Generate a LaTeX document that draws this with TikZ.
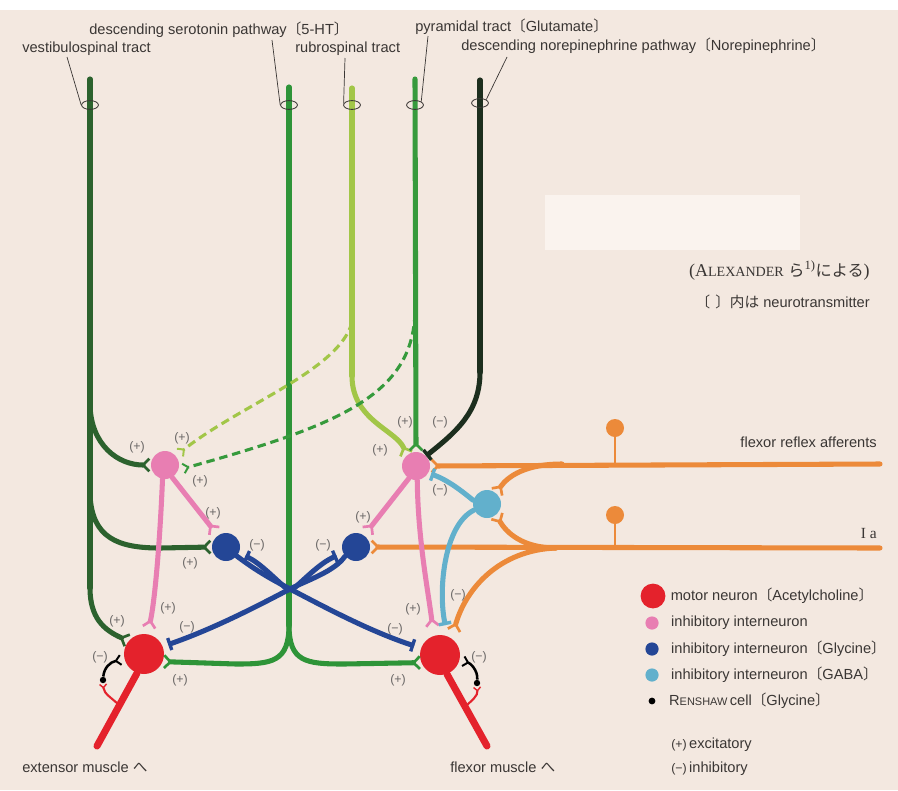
\documentclass[tikz,border=0pt]{standalone}
\usepackage{fontspec}
\setmainfont{Liberation Sans}
\newfontfamily\cjk{Noto Sans CJK JP}
\newfontfamily\serifrm{Liberation Serif}
\usetikzlibrary{arrows.meta,positioning,shapes.geometric}

\definecolor{paper}{RGB}{243,232,224}
\definecolor{patch}{RGB}{250,243,238}
\definecolor{vestgreen}{RGB}{44,98,46}
\definecolor{serogreen}{RGB}{46,148,56}
\definecolor{rubrogreen}{RGB}{162,198,72}
\definecolor{pyrgreen}{RGB}{54,154,60}
\definecolor{norgreen}{RGB}{28,46,30}
\definecolor{pinkn}{RGB}{232,126,178}
\definecolor{bluen}{RGB}{36,70,150}
\definecolor{gaban}{RGB}{98,176,204}
\definecolor{mred}{RGB}{228,34,44}
\definecolor{afforange}{RGB}{236,138,58}
\definecolor{ink}{RGB}{58,54,52}

\newcommand{\lbr}{{\cjk 〔}}
\newcommand{\rbr}{{\cjk 〕}}
\newcommand{\pl}{(+)}
\newcommand{\mi}{(−)}

\begin{document}
\begin{tikzpicture}[x=0.025cm,y=-0.025cm,
  fiber/.style={line width=3.6pt,line cap=round},
  dfiber/.style={line width=2.2pt,dash pattern=on 6pt off 3.5pt},
  axon/.style={line width=5pt,line cap=round},
  twig/.style={line width=1.5pt},
  syn/.style={-{Straight Barb[reversed,length=4.5pt,width=9pt,line width=1.9pt 0]}},
  smallsyn/.style={-{Straight Barb[reversed,length=3.5pt,width=7pt,line width=1.4pt 0]}},
  tinysyn/.style={-{Straight Barb[reversed,length=2.5pt,width=5pt,line width=1pt 0]}},
  tbar/.style={-{Bar[width=9pt,line width=2.4pt 0]}},
  cell/.style={circle,minimum size=0.7cm,inner sep=0pt},
  motor/.style={circle,minimum size=1cm,inner sep=0pt,fill=mred},
  ganglion/.style={circle,minimum size=0.45cm,inner sep=0pt,fill=afforange},
  ring/.style={ellipse,draw=ink,line width=0.6pt,minimum width=0.42cm,minimum height=0.22cm,inner sep=0pt},
  leader/.style={draw=ink,line width=0.5pt},
  lbl/.style={font=\fontsize{10.4}{12}\selectfont,text=ink,inner sep=0pt},
  sign/.style={font=\fontsize{8.8}{10}\selectfont,text=ink!75,inner sep=0pt}]

  \useasboundingbox (0,0) rectangle (898,790);
  \fill[paper] (0,0) rectangle (898,790);
  \fill[white] (0,0) rectangle (898,10);
  \fill[patch] (545,195) rectangle (800,250);

  % cells
  \node[cell,fill=pinkn] (pkL) at (165,465) {};
  \node[cell,fill=pinkn] (pkR) at (416,466) {};
  \node[cell,fill=bluen] (blL) at (226,547) {};
  \node[cell,fill=bluen] (blR) at (356,547) {};
  \node[cell,fill=gaban] (gb) at (487,504) {};
  \node[motor] (mnL) at (144,654) {};
  \node[motor] (mnR) at (440,655) {};
  \node[circle,fill=black,minimum size=0.16cm,inner sep=0pt] (rsL) at (103,680) {};
  \node[circle,fill=black,minimum size=0.16cm,inner sep=0pt] (rsR) at (477,683) {};
  \node[ganglion] (drgF) at (615,428) {};
  \node[ganglion] (drgI) at (615,515) {};

  % tract tops and branch points
  \coordinate (vT) at (90,79);
  \coordinate (sT) at (289,87);
  \coordinate (rT) at (352,88);
  \coordinate (pT) at (415,79);
  \coordinate (nT) at (480,80);
  \coordinate (v1) at (90,405);
  \coordinate (v2) at (90,495);
  \coordinate (v3) at (90,588);
  \coordinate (s1) at (289,625);
  \coordinate (r1) at (352,322);
  \coordinate (r2) at (352,376);
  \coordinate (p1) at (415,313);
  \coordinate (n1) at (480,372);
  \coordinate (fraE) at (880,464);
  \coordinate (iaE) at (880,548);
  \coordinate (f1) at (562,464);
  \coordinate (i1) at (556,548);
  \coordinate (bL1) at (292,590);
  \coordinate (bR1) at (288,590);
  \coordinate (extM) at (97,746);
  \coordinate (flxM) at (487,746);
  \coordinate (rcL) at (119,705);
  \coordinate (rcR) at (465,707);

  % afferents
  \draw[fiber,afforange,syn] (fraE) -- (pkR.east);
  \draw[fiber,afforange,syn] (iaE) -- (blR.east);
  \draw[fiber,afforange,syn] (f1) .. controls (526,464) and (508,476) .. (gb.50);
  \draw[fiber,afforange,syn] (i1) .. controls (522,548) and (506,532) .. (gb.-50);
  \draw[fiber,afforange,syn,shorten >=5pt] (i1) .. controls (500,550) and (466,588) .. (mnR.55);
  \draw[afforange,line width=1.5pt] (drgF) -- (drgF |- fraE);
  \draw[afforange,line width=1.5pt] (drgI) -- (drgI |- iaE);

  % vestibulospinal tract
  \draw[fiber,vestgreen] (vT) -- (v3);
  \draw[fiber,vestgreen,syn] (v3) .. controls (90,618) and (104,630) .. (mnL.140);
  \draw[fiber,vestgreen,syn] (v1) .. controls (91,445) and (118,465) .. (pkL.west);
  \draw[fiber,vestgreen,syn] (v2) .. controls (92,538) and (118,548) .. (160,548) -- (blL.west);

  % serotonin pathway
  \draw[fiber,serogreen] (sT) -- (s1);
  \draw[fiber,serogreen,syn] (s1) .. controls (289,662) and (272,664) .. (236,664) -- (mnL.-22);
  \draw[fiber,serogreen,syn] (s1) .. controls (289,662) and (306,664) .. (344,664) -- (mnR.202);

  % rubrospinal tract
  \draw[fiber,rubrogreen] (rT) -- (r2);
  \draw[fiber,rubrogreen,syn] (r2) .. controls (352,420) and (396,430) .. (pkR.130);
  \draw[dfiber,rubrogreen,smallsyn,shorten >=3pt] (r1) .. controls (340,370) and (240,405) .. (pkL.40);

  % pyramidal tract
  \draw[fiber,pyrgreen,syn] (pT) -- (pkR.north);
  \draw[dfiber,pyrgreen,smallsyn,shorten >=3pt] (p1) .. controls (412,395) and (340,425) .. (pkL.-20);

  % norepinephrine pathway
  \draw[fiber,norgreen] (nT) -- (n1);
  \draw[fiber,norgreen,tbar] (n1) .. controls (480,412) and (456,432) .. (pkR.45);

  % pink cells
  \draw[fiber,pinkn,syn,shorten >=4pt] (pkL.-100) .. controls (160,540) and (155,600) .. (mnL.80);
  \draw[fiber,pinkn,syn,shorten >=3pt] (pkL.-60) -- (blL.125);
  \draw[fiber,pinkn,syn,shorten >=3pt] (pkR.-120) -- (blR.55);
  \draw[fiber,pinkn,syn,shorten >=6pt] (pkR.-85) .. controls (418,540) and (428,590) .. (mnR.108);

  % gaba cell
  \draw[fiber,gaban,tbar,shorten >=2pt] (gb.165) .. controls (463,492) and (448,480) .. (pkR.-30);
  \draw[fiber,gaban,tbar,shorten >=8pt] (gb.205) .. controls (444,525) and (438,590) .. (mnR.68);

  % blue cells
  \draw[fiber,bluen] (blL.-40) .. controls (258,572) and (273,580) .. (bL1);
  \draw[fiber,bluen,tbar,shorten >=5pt] (bL1) .. controls (330,610) and (372,632) .. (mnR.160);
  \draw[fiber,bluen,tbar,shorten >=5pt] (bL1) .. controls (306,578) and (320,563) .. (blR.205);
  \draw[fiber,bluen] (blR.220) .. controls (334,572) and (307,580) .. (bR1);
  \draw[fiber,bluen,tbar,shorten >=4pt] (bR1) .. controls (250,610) and (210,630) .. (mnL.22);
  \draw[fiber,bluen,tbar,shorten >=5pt] (bR1) .. controls (274,578) and (260,563) .. (blL.-25);

  % motor axons and Renshaw loops
  \draw[axon,mred] (mnL.-110) -- (extM);
  \draw[axon,mred] (mnR.-70) -- (flxM);
  \draw[twig,mred,tinysyn] (rcL) .. controls (112,698) and (104,694) .. (rsL.south);
  \draw[twig,mred,tinysyn] (rcR) .. controls (472,700) and (478,696) .. (rsR.south);
  \draw[twig,black,line width=1.8pt,smallsyn,shorten >=2pt] (rsL) .. controls (104,668) and (110,662) .. (mnL.195);
  \draw[twig,black,line width=1.8pt,smallsyn,shorten >=2pt] (rsR) .. controls (478,670) and (470,663) .. (mnR.-15);

  % rings and tract labels
  \node[ring] (ringV) at (90,105) {};
  \node[ring] (ringS) at (289,105) {};
  \node[ring] (ringR) at (352,105) {};
  \node[ring] (ringP) at (415,105) {};
  \node[ring] (ringN) at (480,103) {};
  \node[lbl,anchor=base west] (lVest) at (22,52) {vestibulospinal tract};
  \node[lbl,anchor=base west] (lSero) at (89,34) {descending serotonin pathway\lbr 5-HT\rbr};
  \node[lbl,anchor=base west] (lRubro) at (295,52) {rubrospinal tract};
  \node[lbl,anchor=base west] (lPyr) at (415,31) {pyramidal tract\lbr Glutamate\rbr};
  \node[lbl,anchor=base west] (lNor) at (461,50) {descending norepinephrine pathway\lbr Norepinephrine\rbr};
  \coordinate (kV) at (67,57);
  \coordinate (kS) at (272,40);
  \coordinate (kR) at (345,58);
  \coordinate (kP) at (428,36);
  \coordinate (kN) at (507,57);
  \draw[leader] (kV) -- (ringV.west);
  \draw[leader] (kS) -- (ringS.west);
  \draw[leader] (kR) -- (ringR.170);
  \draw[leader] (kP) -- (ringP.north east);
  \draw[leader] (kN) -- (ringN.north east);

  % afferent and muscle labels
  \node[lbl,anchor=base east] (lFra) at (877,447) {flexor reflex afferents};
  \node[lbl,anchor=base east,font=\serifrm\fontsize{11}{12}\selectfont] (lIa) at (877,538) {I a};
  \node[lbl,anchor=base west] (lExt) at (22,772) {extensor muscle {\cjk へ}};
  \node[lbl,anchor=base west] (lFlx) at (450,772) {flexor muscle {\cjk へ}};

  % source notes
  \node[lbl,anchor=base east,font=\serifrm\fontsize{12.8}{14}\selectfont] (lSrc) at (870,276)
    {(A{\fontsize{10}{12}\selectfont LEXANDER} {\cjk\fontsize{11.5}{14}\selectfont ら}\textsuperscript{1)}{\cjk\fontsize{11.5}{14}\selectfont による})};
  \node[lbl,anchor=base east] (lNote) at (870,307) {{\cjk\fontsize{10.4}{12}\selectfont 〔\hspace{0.35em}〕内は} neurotransmitter};

  % signs at the left pink cell
  \node[sign] (sg1) at (137,447) {\pl};
  \node[sign] (sg2) at (182,438) {\pl};
  \node[sign] (sg3) at (200,481) {\pl};
  % signs at the blue cells
  \node[sign] (sg4) at (213,513) {\pl};
  \node[sign] (sg5) at (190,563) {\pl};
  \node[sign] (sg6) at (257,545) {\mi};
  \node[sign] (sg7) at (323,545) {\mi};
  \node[sign] (sg8) at (363,517) {\pl};
  % signs at the right pink cell
  \node[sign] (sg9) at (380,450) {\pl};
  \node[sign] (sg10) at (405,422) {\pl};
  \node[sign] (sg11) at (440,422) {\mi};
  \node[sign] (sg12) at (440,490) {\mi};
  % signs at the motor neurons
  \node[sign] (sg13) at (117,621) {\pl};
  \node[sign] (sg14) at (168,608) {\pl};
  \node[sign] (sg15) at (187,627) {\mi};
  \node[sign] (sg16) at (180,680) {\pl};
  \node[sign] (sg17) at (100,657) {\mi};
  \node[sign] (sg18) at (395,629) {\mi};
  \node[sign] (sg19) at (398,680) {\pl};
  \node[sign] (sg20) at (413,609) {\pl};
  \node[sign] (sg21) at (458,595) {\mi};
  \node[sign] (sg22) at (479,657) {\mi};

  % legend
  \node[motor,minimum size=0.62cm] (kMn) at (653,596) {};
  \node[cell,fill=pinkn,minimum size=0.33cm] (kPk) at (652,623) {};
  \node[cell,fill=bluen,minimum size=0.33cm] (kBl) at (652,649) {};
  \node[cell,fill=gaban,minimum size=0.33cm] (kGb) at (652,675) {};
  \node[circle,fill=black,minimum size=0.17cm,inner sep=0pt] (kRs) at (652,701) {};
  \node[lbl,right=0.12cm of kMn] (tMn) {motor neuron\lbr Acetylcholine\rbr};
  \node[lbl,right=0.3cm of kPk] (tPk) {inhibitory interneuron};
  \node[lbl,right=0.3cm of kBl] (tBl) {inhibitory interneuron\lbr Glycine\rbr};
  \node[lbl,right=0.3cm of kGb] (tGb) {inhibitory interneuron\lbr GABA\rbr};
  \node[lbl,right=0.33cm of kRs] (tRs) {R{\fontsize{7.8}{9}\selectfont ENSHAW}\,cell\lbr Glycine\rbr};
  \node[lbl,anchor=base west] (tExc) at (671,748) {{\fontsize{8.8}{10}\selectfont\pl}\,excitatory};
  \node[lbl,anchor=base west] (tInh) at (671,772) {{\fontsize{8.8}{10}\selectfont\mi}\,inhibitory};

\end{tikzpicture}
\end{document}
